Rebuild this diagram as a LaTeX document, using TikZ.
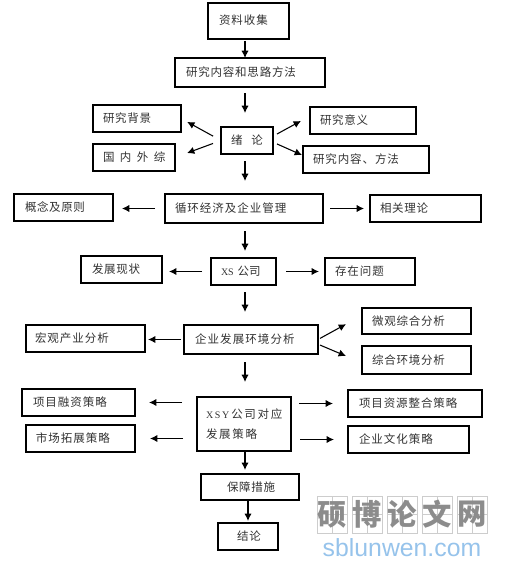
\documentclass[tikz,border=0pt]{standalone}
\usepackage{fontspec}
\usetikzlibrary{arrows.meta,calc}
\newfontfamily\cjk{Noto Sans CJK SC}
\newfontfamily\lat{Liberation Serif}
\newfontfamily\wmsans{Liberation Sans}
\definecolor{wmgrey}{RGB}{140,140,140}
\definecolor{wmline}{RGB}{205,205,205}
\definecolor{wmblue}{RGB}{150,195,235}
\definecolor{ink}{RGB}{50,50,50}
\tikzset{
  box/.style={draw=black,line width=1pt,outer sep=0pt,inner ysep=0pt,text=ink,
    font=\fontsize{8.625}{15}\selectfont\cjk},
  arr/.style={draw=black,line width=0.8pt,-{Latex[length=5.5pt,width=5.5pt]}},
  arrb/.style={arr,line width=1pt},
  gapn/.style 2 args={shorten <=#1*0.75pt,shorten >=#2*0.75pt},
  wmcell/.style={draw=wmline,line width=0.5pt,minimum width=22.5pt,minimum height=27.75pt,
    inner sep=0pt,outer sep=0pt,text=wmgrey,font=\fontsize{22}{23}\selectfont\cjk\bfseries}
}
\newcommand\labelled[8][12.4]{%
  \pgfmathsetmacro\bw{(#5-#3)*0.75}%
  \pgfmathsetmacro\bh{(#6-#4)*0.75}%
  \pgfmathsetmacro\bi{(#7-#3)*0.75}%
  \pgfmathsetmacro\bt{(#5-#7)*0.75-\bi}%
  \pgfmathsetmacro\bl{(#1-11.5)/11.5*100}%
  \node[box,anchor=north west,minimum width=\bw pt,minimum height=\bh pt,inner xsep=\bi pt,
    text width=\bt pt,align=left] (#2) at (#3,#4) {\addfontfeature{LetterSpace=\bl}#8};%
}
\begin{document}
\begin{tikzpicture}[x=0.75pt,y=-0.75pt]
\useasboundingbox (0,0) rectangle (505,567);
\coordinate (spine) at (245,0);
\coordinate (spineb) at (248,0);
\labelled[12.5]{zl}{208}{3}{289}{39}{219}{\raisebox{1.5pt}{资料收集}}
\labelled[12.3]{sl}{175}{58}{325}{87}{186}{研究内容和思路方法}
\labelled[12.2]{bj}{93}{105}{181}{132}{103}{研究背景}
\labelled[17]{gn}{93}{144}{175}{171}{103}{国内外综}
\labelled[20.5]{lun}{221}{127}{273}{154}{231}{绪论}
\labelled[12.2]{yy}{310}{107}{416}{134}{320}{研究意义}
\labelled[12.4]{nr}{303}{146}{429}{173}{313}{研究内容、方法}
\labelled[12.1]{gn2}{14}{194}{113}{221}{25}{概念及原则}
\labelled[12.5]{xh}{165}{194}{323}{223}{175}{循环经济及企业管理}
\labelled[12.2]{xg}{370}{195}{481}{222}{380}{相关理论}
\labelled[12.2]{fz}{81}{256}{162}{283}{92}{发展现状}
\labelled[11.5]{xs}{211}{258}{276}{285}{221}{\mbox{{\lat\fontsize{7.5}{15}\selectfont XS} 公司}}
\labelled[12.5]{cz}{325}{258}{415}{285}{335}{存在问题}
\labelled[12.5]{hg}{26}{325}{145}{352}{35}{宏观产业分析}
\labelled[12.6]{env}{184}{325}{318}{354}{195}{企业发展环境分析}
\labelled[12.3]{wg}{362}{308}{471}{334}{372}{微观综合分析}
\labelled[12.3]{zh}{362}{346}{471}{374}{372}{综合环境分析}
\labelled[12.5]{rz}{22}{389}{135}{416}{33}{项目融资策略}
\labelled[12.5]{sc}{26}{425}{135}{452}{36}{市场拓展策略}
\labelled[13.2]{xsy}{197}{397}{291}{451}{206}{\raisebox{2pt}{\begin{tabular}{@{}l@{}}{\lat\fontsize{7.5}{15}\selectfont X\,S\,Y}\,公司对应\\发展策略\end{tabular}}}
\labelled[12.4]{zy}{348}{390}{482}{417}{359}{项目资源整合策略}
\labelled[12.5]{wh}{348}{426}{469}{453}{359}{企业文化策略}
\labelled[12.2]{bz}{201}{474}{299}{500}{227}{保障措施}
\labelled[12.5]{jl}{218}{523}{278}{550}{237}{结论}
% vertical spine
\draw[arr,gapn={2}{0}] (zl.south -| spine) -- (sl.north -| spine);
\draw[arr,gapn={6}{14}] (sl.south -| spine) -- (lun.north -| spine);
\draw[arr,gapn={7}{13}] (lun.south -| spine) -- (xh.north -| spine);
\draw[arr,gapn={8}{7}] (xh.south -| spine) -- (xs.north -| spine);
\draw[arr,gapn={7}{13}] (xs.south -| spine) -- (env.north -| spine);
\draw[arr,gapn={8}{15}] (env.south -| spine) -- (xsy.north -| spine);
\draw[arrb,gapn={1}{4}] (xsy.south -| spine) -- (bz.north -| spine);
\draw[arrb,gapn={1}{2}] (bz.south -| spineb) -- (jl.north -| spineb);
% diagonals at lun
\draw[arr,gapn={9}{7}] (lun.west) -- (bj.east);
\draw[arr,gapn={8.5}{12.8}] (lun.west) -- (gn.east);
\draw[arr,gapn={4.5}{10.3}] ($(lun.east)+(0,-4.3)$) -- ($(yy.west)+(0,-4.5)$);
\draw[arr,gapn={4.4}{1.1}] ($(lun.east)+(0,1.7)$) -- ($(nr.west)+(0,-4)$);
% horizontals
\draw[arr,gapn={10}{9}] (xh.west) -- (gn2.east |- xh.west);
\draw[arr,gapn={7}{6}] (xh.east) -- (xg.west |- xh.east);
\draw[arrb,gapn={9}{7}] (xs.west) -- (fz.east |- xs.west);
\draw[arrb,gapn={10}{6}] (xs.east) -- (cz.west |- xs.east);
\draw[arrb,gapn={3}{3}] (env.west) -- (hg.east |- env.west);
\draw[arr,gapn={2.3}{18.2}] (env.east) -- ($(wg.west)+(0,-5.6)$);
\draw[arr,gapn={2.2}{17.4}] ($(env.east)+(0,4.7)$) -- ($(zh.west)+(0,2.8)$);
\draw[arrb,gapn={15}{14}] (xsy.west |- rz.east) -- (rz.east);
\draw[arrb,gapn={14}{15}] (xsy.west |- sc.east) -- (sc.east);
\draw[arrb,gapn={8}{15}] (xsy.east |- zy.west) -- (zy.west);
\draw[arrb,gapn={9}{14}] (xsy.east |- wh.west) -- (wh.west);
% watermark
\foreach \nm/\cx/\ch in {wa/332/硕,wb/367/博,wc/402/论,wd/437/文,we/472/网}{
  \draw[wmline,line width=0.3pt] (\cx,496) -- (\cx,533) (\cx-15,514.5) -- (\cx+15,514.5);
  \node[wmcell] (\nm) at (\cx,514.5) {\ch};
}
\node[text=wmblue,font=\fontsize{18.6}{20}\selectfont\wmsans,inner sep=0pt] (wmt) at (402,548) {sblunwen.com};
\end{tikzpicture}
\end{document}
